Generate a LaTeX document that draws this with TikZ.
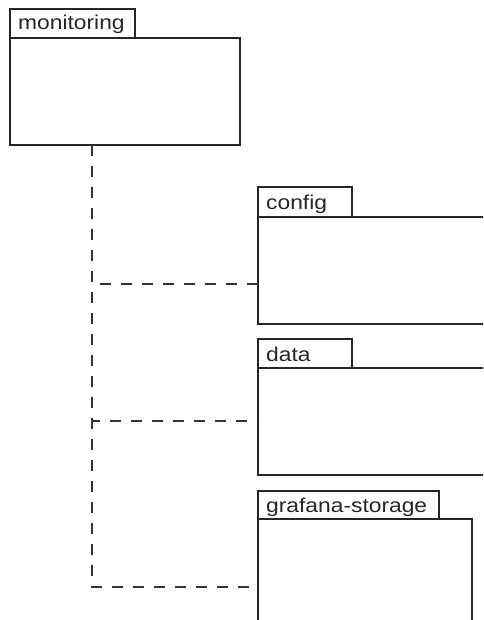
\documentclass[tikz,border=0pt]{standalone}
\usepackage{fontspec}
\setmainfont{Liberation Sans}
\begin{document}
\begin{tikzpicture}[x=1pt,y=-1pt,
  pkg/.style={draw=black!85, line width=1.2pt, fill=white, inner sep=0pt, outer sep=0pt, anchor=north west},
  pkglabel/.style={inner sep=0pt, anchor=base west, text=black!85, font=\fontsize{20}{24}\selectfont},
  dep/.style={draw=black!80, line width=1.2pt, dash pattern=on 11pt off 10pt}]
\useasboundingbox (0,0) rectangle (483,620);
\clip (0,0) rectangle (483,620);
% monitoring
\node[pkg, minimum width=125, minimum height=29] (montab) at (10,9) {};
\node[pkg, minimum width=230, minimum height=107] (mon) at (10,38) {};
\node[pkglabel] (monlbl) at (18,30) {\scalebox{1.14}[1]{monitoring}};
% config
\node[pkg, minimum width=94, minimum height=30] (cfgtab) at (258,187) {};
\node[pkg, minimum width=240, minimum height=107] (cfg) at (258,217) {};
\node[pkglabel] (cfglbl) at (266,210) {\scalebox{1.14}[1]{config}};
% data
\node[pkg, minimum width=94, minimum height=29] (dattab) at (258,339) {};
\node[pkg, minimum width=240, minimum height=107] (dat) at (258,368) {};
\node[pkglabel] (datlbl) at (266,361) {\scalebox{1.14}[1]{data}};
% grafana-storage
\node[pkg, minimum width=181, minimum height=28] (graftab) at (258,491) {};
\node[pkg, minimum width=214, minimum height=120] (graf) at (258,519) {};
\node[pkglabel] (graflbl) at (266,512) {\scalebox{1.14}[1]{grafana-storage}};
% connectors
\coordinate (trunk) at (92,145);
\coordinate (bcfg) at (258,284);
\coordinate (bdat) at (258,421);
\coordinate (bgraf) at (258,587);
\draw[dep] (trunk) |- (bgraf);
\draw[dep] (trunk) |- (bdat);
\draw[dep] (trunk) |- (bcfg);
\end{tikzpicture}
\end{document}
